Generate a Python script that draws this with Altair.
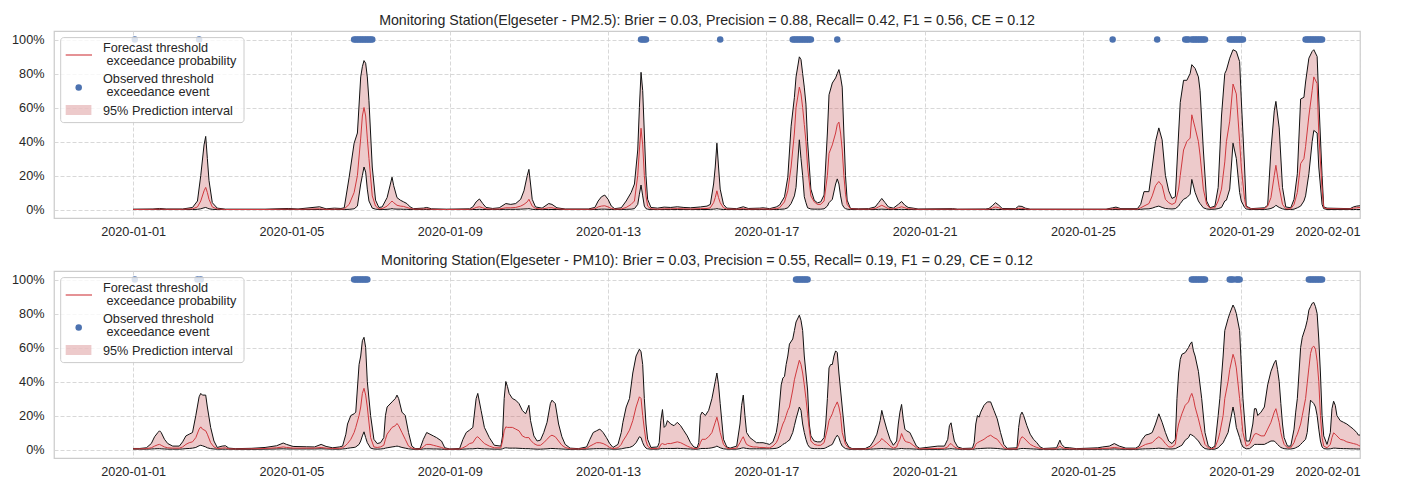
import altair as alt
import pandas as pd

# ---------------- data (hours after 2020-01-01 00:00) ----------------
PM25_HOURS = [
    0, 12, 16, 20, 30, 36, 39, 41, 43, 44,
    45, 46, 48, 51, 56, 80, 94, 100, 113, 117,
    122, 126, 128, 131, 134, 136, 138, 139, 140, 141,
    142, 143, 145, 147, 149, 151, 154, 156, 157, 158,
    160, 162, 164, 166, 168, 170, 176, 178, 181, 190,
    204, 206, 208, 210, 212, 214, 218, 222, 226, 229,
    232, 235, 237, 239, 240, 241, 242, 244, 248, 252,
    254, 257, 262, 276, 280, 282, 284, 286, 288, 290,
    292, 296, 299, 302, 304, 306, 307, 308, 309, 310,
    311, 312, 314, 318, 322, 326, 330, 334, 338, 344,
    348, 350, 352, 353, 354, 355, 356, 358, 360, 366,
    370, 373, 380, 382, 386, 390, 392, 395, 397, 399,
    401, 402, 404, 405, 406, 407, 408, 409, 411, 413,
    415, 417, 419, 421, 422, 424, 426, 427, 428, 429,
    430, 431, 432, 433, 435, 440, 446, 450, 452, 454,
    456, 458, 461, 464, 466, 468, 470, 473, 476, 497,
    500, 517, 519, 521, 523, 525, 527, 535, 537, 539,
    541, 544, 590, 594, 596, 599, 609, 611, 613, 616,
    618, 620, 622, 624, 626, 628, 630, 632, 634, 635,
    637, 639, 641, 642, 644, 646, 647, 649, 651, 653,
    656, 658, 660, 662, 663, 665, 667, 669, 671, 672,
    674, 675, 678, 686, 688, 690, 692, 693, 695, 697,
    699, 702, 704, 706, 708, 710, 711, 713, 715, 716,
    718, 719, 721, 722, 724, 738, 740, 742, 744,
]
PM25_LOWER = [
    0, 0, 0, 0, 0, 0, 0.001, 0.004, 0.01, 0.012,
    0.008, 0.004, 0.001, 0, 0, 0, 0, 0, 0, 0,
    0, 0, 0, 0.001, 0.004, 0.02, 0.15, 0.2, 0.25, 0.22,
    0.12, 0.05, 0.008, 0.002, 0, 0, 0.001, 0.003, 0.005, 0.003,
    0.002, 0.002, 0.001, 0.001, 0, 0, 0, 0, 0, 0,
    0, 0, 0, 0.001, 0, 0, 0, 0, 0.001, 0.001,
    0.001, 0.002, 0.003, 0.004, 0.005, 0.003, 0.001, 0, 0, 0,
    0, 0, 0, 0, 0, 0.001, 0.002, 0.002, 0.001, 0,
    0, 0, 0.001, 0.002, 0.005, 0.03, 0.09, 0.144, 0.08, 0.02,
    0.005, 0.002, 0, 0, 0, 0, 0, 0, 0, 0,
    0, 0.001, 0.002, 0.003, 0.005, 0.003, 0.002, 0, 0, 0,
    0, 0, 0, 0, 0, 0, 0.001, 0.003, 0.01, 0.035,
    0.08, 0.13, 0.41, 0.3, 0.2, 0.075, 0.04, 0.01, 0.003, 0.002,
    0.002, 0.002, 0.004, 0.02, 0.04, 0.06, 0.15, 0.18, 0.15, 0.08,
    0.03, 0.012, 0.005, 0.002, 0, 0, 0, 0, 0.001, 0.002,
    0.001, 0, 0, 0, 0.001, 0, 0, 0, 0, 0,
    0, 0, 0, 0, 0.001, 0, 0, 0, 0, 0,
    0, 0, 0, 0, 0, 0, 0, 0.001, 0.003, 0.004,
    0.008, 0.015, 0.02, 0.012, 0.006, 0.004, 0.003, 0.005, 0.02, 0.035,
    0.06, 0.07, 0.09, 0.177, 0.1, 0.05, 0.035, 0.01, 0.003, 0.001,
    0.002, 0.005, 0.012, 0.05, 0.055, 0.12, 0.39, 0.3, 0.1, 0.05,
    0.012, 0.003, 0, 0, 0.002, 0.006, 0.015, 0.025, 0.012, 0.004,
    0, 0, 0.002, 0.01, 0.02, 0.05, 0.08, 0.21, 0.4, 0.465,
    0.45, 0.25, 0.03, 0.005, 0, 0, 0, 0, 0,
]
PM25_MID = [
    0, 0.001, 0.002, 0.001, 0.001, 0.004, 0.015, 0.05, 0.11, 0.13,
    0.1, 0.06, 0.015, 0.003, 0, 0, 0.002, 0.001, 0.004, 0.001,
    0.002, 0.002, 0.003, 0.03, 0.1, 0.2, 0.42, 0.55, 0.6, 0.55,
    0.42, 0.3, 0.08, 0.02, 0.004, 0.005, 0.02, 0.04, 0.05, 0.04,
    0.025, 0.02, 0.018, 0.012, 0.006, 0.002, 0.003, 0.004, 0.001, 0,
    0.001, 0.004, 0.012, 0.016, 0.01, 0.004, 0.002, 0.003, 0.01, 0.01,
    0.012, 0.02, 0.03, 0.045, 0.06, 0.04, 0.02, 0.006, 0.003, 0.01,
    0.01, 0.004, 0.001, 0.001, 0.004, 0.015, 0.02, 0.022, 0.015, 0.006,
    0.002, 0.003, 0.012, 0.03, 0.05, 0.2, 0.35, 0.478, 0.38, 0.2,
    0.08, 0.02, 0.004, 0.002, 0.004, 0.004, 0.005, 0.004, 0.003, 0.005,
    0.006, 0.01, 0.04, 0.07, 0.11, 0.07, 0.04, 0.01, 0.003, 0.002,
    0.005, 0.002, 0.003, 0.003, 0.002, 0.005, 0.01, 0.045, 0.11, 0.25,
    0.45, 0.6, 0.72, 0.68, 0.6, 0.5, 0.4, 0.25, 0.08, 0.045,
    0.03, 0.03, 0.05, 0.2, 0.33, 0.38, 0.45, 0.5, 0.514, 0.45,
    0.35, 0.2, 0.09, 0.03, 0.004, 0.002, 0.002, 0.005, 0.015, 0.025,
    0.015, 0.005, 0.003, 0.01, 0.016, 0.01, 0.004, 0.003, 0.001, 0.002,
    0.001, 0.001, 0.002, 0.008, 0.015, 0.01, 0.002, 0.002, 0.007, 0.007,
    0.003, 0.001, 0.001, 0.004, 0.005, 0.002, 0.002, 0.01, 0.02, 0.035,
    0.08, 0.14, 0.165, 0.14, 0.06, 0.04, 0.03, 0.04, 0.12, 0.2,
    0.35, 0.4, 0.42, 0.557, 0.48, 0.4, 0.32, 0.12, 0.03, 0.008,
    0.01, 0.05, 0.12, 0.28, 0.4, 0.52, 0.738, 0.68, 0.4, 0.25,
    0.06, 0.015, 0.003, 0.005, 0.02, 0.07, 0.2, 0.26, 0.13, 0.03,
    0.004, 0.004, 0.03, 0.1, 0.27, 0.3, 0.37, 0.55, 0.7, 0.78,
    0.74, 0.45, 0.12, 0.01, 0.005, 0.003, 0.008, 0.01, 0.012,
]
PM25_UPPER = [
    0.002, 0.003, 0.006, 0.003, 0.003, 0.012, 0.05, 0.2, 0.38, 0.43,
    0.3, 0.17, 0.04, 0.008, 0.002, 0.002, 0.006, 0.003, 0.016, 0.004,
    0.008, 0.006, 0.01, 0.19, 0.39, 0.45, 0.78, 0.84, 0.876, 0.86,
    0.78, 0.64, 0.25, 0.055, 0.012, 0.015, 0.07, 0.15, 0.19, 0.14,
    0.07, 0.055, 0.045, 0.035, 0.015, 0.005, 0.008, 0.012, 0.004, 0.002,
    0.004, 0.015, 0.045, 0.062, 0.035, 0.012, 0.006, 0.01, 0.035, 0.03,
    0.035, 0.06, 0.11, 0.2, 0.236, 0.15, 0.06, 0.015, 0.008, 0.035,
    0.03, 0.01, 0.003, 0.003, 0.012, 0.05, 0.075, 0.085, 0.06, 0.02,
    0.005, 0.01, 0.05, 0.1, 0.15, 0.35, 0.6, 0.807, 0.7, 0.45,
    0.2, 0.06, 0.012, 0.008, 0.014, 0.012, 0.016, 0.012, 0.01, 0.015,
    0.02, 0.03, 0.15, 0.25, 0.39, 0.25, 0.12, 0.03, 0.008, 0.005,
    0.016, 0.006, 0.008, 0.01, 0.005, 0.015, 0.026, 0.075, 0.19, 0.49,
    0.66, 0.78, 0.898, 0.882, 0.8, 0.72, 0.62, 0.4, 0.12, 0.055,
    0.039, 0.045, 0.085, 0.45, 0.675, 0.744, 0.774, 0.8, 0.823, 0.78,
    0.72, 0.45, 0.2, 0.055, 0.006, 0.004, 0.005, 0.015, 0.04, 0.065,
    0.04, 0.015, 0.008, 0.03, 0.047, 0.025, 0.012, 0.008, 0.003, 0.005,
    0.002, 0.003, 0.006, 0.022, 0.04, 0.025, 0.006, 0.005, 0.02, 0.018,
    0.008, 0.002, 0.002, 0.01, 0.014, 0.005, 0.005, 0.03, 0.105, 0.105,
    0.25, 0.4, 0.48, 0.41, 0.2, 0.11, 0.065, 0.075, 0.45, 0.63,
    0.76, 0.76, 0.8, 0.852, 0.83, 0.78, 0.7, 0.35, 0.05, 0.01,
    0.02, 0.13, 0.55, 0.8, 0.82, 0.89, 0.94, 0.93, 0.87, 0.65,
    0.25, 0.02, 0.005, 0.01, 0.025, 0.35, 0.58, 0.636, 0.48, 0.13,
    0.015, 0.01, 0.06, 0.21, 0.65, 0.66, 0.75, 0.89, 0.93, 0.94,
    0.9, 0.65, 0.2, 0.015, 0.008, 0.005, 0.015, 0.02, 0.022,
]
PM25_EVENT_HOURS = [
    1, 40,
    134, 135, 136, 137, 138, 139, 140, 141, 142, 143, 144, 145,
    308, 309, 310, 311, 356,
    400, 401, 402, 403, 404, 405, 406, 407, 408, 409, 410, 411, 427,
    594, 621, 638, 639, 640,
    642, 643, 644, 645, 646, 647, 648, 649, 650,
    665, 666, 667, 668, 669, 670, 671, 672, 673,
    711, 712, 713, 714, 715, 716, 717, 718, 719, 720, 721,
]

PM10_HOURS = [
    0, 4, 8, 11, 13, 15, 16, 17, 19, 21,
    24, 28, 30, 32, 34, 36, 38, 40, 41, 42,
    44, 45, 47, 49, 51, 54, 56, 58, 62, 72,
    80, 87, 91, 93, 97, 105, 110, 114, 117, 121,
    125, 127, 129, 130, 132, 134, 135, 137, 138, 139,
    140, 141, 142, 144, 146, 148, 150, 152, 153, 154,
    157, 159, 160, 161, 163, 165, 167, 169, 171, 174,
    176, 177, 178, 180, 182, 184, 187, 189, 192, 198,
    200, 202, 204, 206, 208, 209, 211, 213, 216, 219,
    223, 224, 225, 226, 227, 228, 230, 232, 234, 236,
    238, 240, 241, 243, 245, 247, 249, 251, 253, 254,
    256, 258, 260, 262, 265, 270, 275, 277, 279, 281,
    283, 285, 287, 289, 291, 294, 296, 297, 299, 301,
    303, 305, 307, 308, 309, 310, 311, 312, 314, 318,
    319, 320, 321, 322, 323, 324, 326, 328, 330, 332,
    334, 336, 338, 340, 342, 343, 344, 345, 347, 349,
    351, 353, 354, 355, 356, 358, 360, 362, 366, 368,
    369, 370, 371, 372, 374, 376, 378, 380, 382, 384,
    386, 388, 390, 391, 393, 394, 395, 396, 397, 398,
    400, 401, 402, 404, 405, 406, 407, 408, 409, 410,
    411, 413, 415, 417, 419, 420, 421, 422, 423, 424,
    425, 426, 427, 428, 429, 430, 432, 434, 436, 444,
    447, 449, 451, 453, 454, 455, 457, 459, 461, 463,
    464, 465, 466, 467, 468, 469, 471, 473, 475, 477,
    488, 492, 494, 495, 496, 497, 498, 500, 503, 509,
    510, 511, 512, 513, 514, 516, 518, 520, 522, 524,
    526, 528, 530, 536, 537, 538, 539, 540, 542, 544,
    546, 548, 550, 552, 560, 562, 563, 565, 568, 572,
    585, 588, 592, 595, 598, 602, 608, 610, 612, 614,
    616, 618, 620, 622, 624, 626, 628, 630, 632, 633,
    634, 635, 636, 638, 640, 641, 642, 643, 644, 646,
    648, 650, 652, 654, 656, 658, 659, 661, 662, 664,
    665, 667, 668, 669, 671, 672, 673, 675, 677, 679,
    680, 681, 682, 684, 686, 688, 690, 692, 693, 694,
    695, 696, 697, 698, 700, 702, 704, 705, 706, 707,
    708, 709, 711, 712, 713, 714, 715, 716, 717, 718,
    719, 720, 721, 722, 724, 726, 727, 728, 729, 730,
    732, 734, 736, 738, 740, 742, 743, 744,
]
PM10_LOWER = [
    0.002, 0.002, 0.002, 0.003, 0.004, 0.005, 0.005, 0.004, 0.003, 0.002,
    0.002, 0.002, 0.003, 0.005, 0.006, 0.008, 0.012, 0.022, 0.025, 0.022,
    0.015, 0.01, 0.005, 0.003, 0.002, 0.002, 0.002, 0.002, 0.001, 0.001,
    0.002, 0.003, 0.004, 0.003, 0.003, 0.003, 0.003, 0.004, 0.003, 0.002,
    0.002, 0.003, 0.005, 0.007, 0.01, 0.012, 0.015, 0.03, 0.05, 0.08,
    0.104, 0.07, 0.04, 0.008, 0.003, 0.002, 0.003, 0.005, 0.008, 0.01,
    0.015, 0.018, 0.02, 0.018, 0.012, 0.008, 0.004, 0.002, 0.001, 0.001,
    0.003, 0.004, 0.004, 0.004, 0.003, 0.003, 0.002, 0.001, 0.001, 0.001,
    0.002, 0.003, 0.004, 0.004, 0.006, 0.007, 0.005, 0.004, 0.003, 0.002,
    0.002, 0.004, 0.008, 0.01, 0.009, 0.008, 0.008, 0.008, 0.007, 0.006,
    0.005, 0.005, 0.004, 0.003, 0.002, 0.002, 0.003, 0.004, 0.006, 0.006,
    0.005, 0.004, 0.003, 0.002, 0.001, 0.001, 0.002, 0.003, 0.004, 0.005,
    0.005, 0.005, 0.004, 0.003, 0.002, 0.002, 0.004, 0.006, 0.01, 0.012,
    0.02, 0.04, 0.075, 0.07, 0.04, 0.02, 0.008, 0.004, 0.002, 0.002,
    0.003, 0.005, 0.006, 0.005, 0.006, 0.006, 0.006, 0.006, 0.007, 0.006,
    0.005, 0.004, 0.003, 0.002, 0.002, 0.003, 0.005, 0.006, 0.006, 0.007,
    0.01, 0.015, 0.02, 0.015, 0.01, 0.004, 0.002, 0.002, 0.002, 0.005,
    0.008, 0.01, 0.008, 0.006, 0.004, 0.004, 0.004, 0.004, 0.004, 0.004,
    0.004, 0.005, 0.007, 0.01, 0.02, 0.03, 0.035, 0.04, 0.05, 0.055,
    0.1, 0.14, 0.18, 0.25, 0.23, 0.15, 0.1, 0.06, 0.03, 0.015,
    0.008, 0.005, 0.005, 0.005, 0.006, 0.01, 0.015, 0.02, 0.025, 0.03,
    0.05, 0.07, 0.084, 0.07, 0.04, 0.02, 0.005, 0.002, 0.001, 0.001,
    0.002, 0.003, 0.004, 0.005, 0.006, 0.005, 0.004, 0.003, 0.002, 0.003,
    0.004, 0.005, 0.006, 0.005, 0.004, 0.004, 0.004, 0.003, 0.002, 0.001,
    0.001, 0.002, 0.003, 0.004, 0.005, 0.004, 0.003, 0.002, 0.001, 0.001,
    0.002, 0.004, 0.005, 0.005, 0.006, 0.007, 0.008, 0.008, 0.007, 0.006,
    0.004, 0.002, 0.001, 0.001, 0.003, 0.005, 0.006, 0.006, 0.005, 0.004,
    0.003, 0.002, 0.001, 0.001, 0.001, 0.002, 0.002, 0.001, 0.001, 0.001,
    0.001, 0.002, 0.002, 0.003, 0.002, 0.001, 0.001, 0.002, 0.003, 0.004,
    0.004, 0.005, 0.006, 0.008, 0.006, 0.004, 0.003, 0.003, 0.005, 0.01,
    0.015, 0.02, 0.025, 0.055, 0.07, 0.09, 0.085, 0.08, 0.07, 0.05,
    0.02, 0.005, 0.002, 0.001, 0.002, 0.01, 0.02, 0.04, 0.06, 0.1,
    0.15, 0.25, 0.2, 0.13, 0.07, 0.035, 0.015, 0.004, 0.005, 0.02,
    0.03, 0.03, 0.03, 0.03, 0.03, 0.04, 0.05, 0.05, 0.04, 0.03,
    0.02, 0.012, 0.008, 0.005, 0.003, 0.003, 0.006, 0.01, 0.015, 0.02,
    0.03, 0.04, 0.06, 0.1, 0.2, 0.29, 0.28, 0.27, 0.25, 0.2,
    0.12, 0.05, 0.015, 0.005, 0.003, 0.004, 0.006, 0.008, 0.008, 0.007,
    0.006, 0.005, 0.005, 0.004, 0.004, 0.003, 0.003, 0.003,
]
PM10_MID = [
    0.004, 0.004, 0.005, 0.01, 0.02, 0.028, 0.03, 0.025, 0.015, 0.01,
    0.008, 0.008, 0.015, 0.03, 0.04, 0.045, 0.07, 0.12, 0.133, 0.12,
    0.11, 0.09, 0.04, 0.015, 0.006, 0.008, 0.01, 0.004, 0.003, 0.004,
    0.006, 0.01, 0.015, 0.012, 0.008, 0.008, 0.008, 0.012, 0.008, 0.006,
    0.007, 0.01, 0.025, 0.035, 0.06, 0.1, 0.13, 0.2, 0.25, 0.33,
    0.36, 0.32, 0.25, 0.07, 0.015, 0.012, 0.015, 0.025, 0.06, 0.09,
    0.13, 0.14, 0.153, 0.14, 0.1, 0.06, 0.02, 0.008, 0.003, 0.003,
    0.015, 0.025, 0.03, 0.03, 0.025, 0.02, 0.012, 0.004, 0.002, 0.003,
    0.01, 0.02, 0.035, 0.04, 0.07, 0.075, 0.055, 0.035, 0.02, 0.01,
    0.01, 0.05, 0.11, 0.133, 0.13, 0.13, 0.13, 0.12, 0.11, 0.08,
    0.07, 0.07, 0.055, 0.035, 0.025, 0.025, 0.04, 0.06, 0.08, 0.084,
    0.075, 0.05, 0.025, 0.012, 0.004, 0.003, 0.006, 0.02, 0.03, 0.04,
    0.04, 0.035, 0.025, 0.012, 0.005, 0.01, 0.03, 0.05, 0.08, 0.114,
    0.17, 0.25, 0.31, 0.3, 0.2, 0.12, 0.05, 0.02, 0.005, 0.006,
    0.01, 0.03, 0.035, 0.03, 0.03, 0.035, 0.035, 0.04, 0.045, 0.04,
    0.03, 0.02, 0.012, 0.006, 0.005, 0.015, 0.04, 0.06, 0.06, 0.075,
    0.1, 0.16, 0.19, 0.15, 0.1, 0.03, 0.008, 0.004, 0.008, 0.04,
    0.06, 0.075, 0.05, 0.03, 0.02, 0.015, 0.015, 0.012, 0.012, 0.01,
    0.01, 0.02, 0.04, 0.06, 0.12, 0.15, 0.17, 0.2, 0.23, 0.25,
    0.35, 0.41, 0.45, 0.525, 0.5, 0.45, 0.38, 0.3, 0.21, 0.12,
    0.05, 0.03, 0.025, 0.025, 0.04, 0.08, 0.12, 0.17, 0.19, 0.21,
    0.24, 0.26, 0.28, 0.25, 0.2, 0.1, 0.03, 0.008, 0.003, 0.003,
    0.008, 0.02, 0.035, 0.05, 0.065, 0.055, 0.04, 0.02, 0.008, 0.015,
    0.04, 0.06, 0.094, 0.07, 0.05, 0.045, 0.04, 0.025, 0.01, 0.004,
    0.006, 0.007, 0.015, 0.03, 0.035, 0.025, 0.015, 0.006, 0.003, 0.003,
    0.008, 0.03, 0.04, 0.045, 0.05, 0.06, 0.075, 0.084, 0.07, 0.06,
    0.035, 0.01, 0.003, 0.004, 0.03, 0.06, 0.075, 0.07, 0.05, 0.03,
    0.02, 0.012, 0.006, 0.003, 0.004, 0.02, 0.012, 0.005, 0.004, 0.003,
    0.004, 0.006, 0.008, 0.012, 0.008, 0.004, 0.004, 0.01, 0.02, 0.03,
    0.035, 0.04, 0.06, 0.075, 0.06, 0.035, 0.015, 0.015, 0.03, 0.1,
    0.15, 0.18, 0.21, 0.26, 0.28, 0.31, 0.33, 0.3, 0.25, 0.18,
    0.1, 0.03, 0.01, 0.004, 0.01, 0.06, 0.1, 0.2, 0.3, 0.4,
    0.47, 0.56, 0.53, 0.48, 0.3, 0.2, 0.1, 0.02, 0.03, 0.07,
    0.09, 0.094, 0.09, 0.08, 0.08, 0.12, 0.16, 0.22, 0.24, 0.2,
    0.16, 0.1, 0.06, 0.03, 0.01, 0.01, 0.04, 0.07, 0.09, 0.12,
    0.15, 0.2, 0.3, 0.39, 0.48, 0.565, 0.6, 0.608, 0.59, 0.52,
    0.4, 0.2, 0.07, 0.02, 0.01, 0.03, 0.07, 0.098, 0.09, 0.08,
    0.06, 0.055, 0.045, 0.04, 0.035, 0.03, 0.025, 0.02,
]
PM10_UPPER = [
    0.006, 0.006, 0.01, 0.035, 0.075, 0.1, 0.11, 0.1, 0.06, 0.035,
    0.02, 0.02, 0.045, 0.08, 0.09, 0.1, 0.2, 0.31, 0.33, 0.32,
    0.32, 0.25, 0.13, 0.05, 0.012, 0.02, 0.022, 0.008, 0.005, 0.007,
    0.012, 0.022, 0.038, 0.03, 0.018, 0.016, 0.015, 0.03, 0.018, 0.01,
    0.015, 0.02, 0.09, 0.15, 0.2, 0.21, 0.22, 0.5, 0.55, 0.64,
    0.66, 0.6, 0.4, 0.2, 0.06, 0.035, 0.04, 0.07, 0.2, 0.25,
    0.28, 0.3, 0.32, 0.3, 0.22, 0.2, 0.1, 0.02, 0.005, 0.006,
    0.06, 0.08, 0.1, 0.09, 0.08, 0.07, 0.05, 0.01, 0.003, 0.006,
    0.06, 0.1, 0.114, 0.13, 0.3, 0.33, 0.23, 0.13, 0.07, 0.025,
    0.02, 0.08, 0.3, 0.4, 0.37, 0.33, 0.3, 0.29, 0.27, 0.23,
    0.21, 0.26, 0.17, 0.08, 0.05, 0.055, 0.1, 0.16, 0.27, 0.29,
    0.27, 0.15, 0.075, 0.03, 0.008, 0.005, 0.015, 0.06, 0.1, 0.11,
    0.12, 0.1, 0.07, 0.035, 0.012, 0.03, 0.1, 0.16, 0.25, 0.3,
    0.45, 0.55, 0.59, 0.575, 0.5, 0.3, 0.15, 0.06, 0.012, 0.015,
    0.04, 0.17, 0.235, 0.13, 0.14, 0.17, 0.15, 0.14, 0.16, 0.14,
    0.11, 0.08, 0.04, 0.015, 0.01, 0.04, 0.2, 0.22, 0.2, 0.23,
    0.3, 0.4, 0.45, 0.38, 0.27, 0.06, 0.015, 0.008, 0.02, 0.15,
    0.26, 0.32, 0.2, 0.1, 0.07, 0.055, 0.04, 0.04, 0.04, 0.035,
    0.03, 0.045, 0.1, 0.16, 0.38, 0.42, 0.43, 0.5, 0.55, 0.62,
    0.65, 0.7, 0.75, 0.79, 0.76, 0.7, 0.55, 0.45, 0.35, 0.15,
    0.08, 0.05, 0.045, 0.045, 0.07, 0.15, 0.3, 0.48, 0.5, 0.5,
    0.55, 0.58, 0.57, 0.45, 0.35, 0.25, 0.05, 0.015, 0.005, 0.006,
    0.02, 0.05, 0.09, 0.17, 0.23, 0.19, 0.12, 0.06, 0.025, 0.05,
    0.15, 0.22, 0.265, 0.18, 0.12, 0.11, 0.1, 0.06, 0.02, 0.007,
    0.02, 0.02, 0.06, 0.14, 0.157, 0.1, 0.05, 0.015, 0.006, 0.008,
    0.04, 0.15, 0.2, 0.19, 0.22, 0.26, 0.28, 0.28, 0.23, 0.18,
    0.1, 0.03, 0.007, 0.01, 0.13, 0.2, 0.22, 0.2, 0.14, 0.09,
    0.06, 0.04, 0.015, 0.006, 0.01, 0.055, 0.03, 0.012, 0.01, 0.005,
    0.01, 0.015, 0.02, 0.035, 0.02, 0.008, 0.008, 0.02, 0.06, 0.085,
    0.09, 0.1, 0.15, 0.21, 0.16, 0.1, 0.05, 0.035, 0.06, 0.3,
    0.45, 0.53, 0.56, 0.57, 0.6, 0.62, 0.633, 0.58, 0.55, 0.46,
    0.3, 0.1, 0.02, 0.008, 0.02, 0.2, 0.3, 0.55, 0.7, 0.77,
    0.8, 0.85, 0.83, 0.8, 0.7, 0.5, 0.3, 0.05, 0.05, 0.15,
    0.24, 0.24, 0.2, 0.22, 0.25, 0.38, 0.46, 0.51, 0.525, 0.47,
    0.4, 0.27, 0.15, 0.07, 0.02, 0.02, 0.12, 0.22, 0.3, 0.45,
    0.6, 0.66, 0.72, 0.76, 0.82, 0.84, 0.86, 0.865, 0.84, 0.8,
    0.65, 0.45, 0.2, 0.08, 0.03, 0.1, 0.24, 0.284, 0.26, 0.2,
    0.17, 0.16, 0.15, 0.135, 0.12, 0.1, 0.085, 0.085,
]
PM10_EVENT_HOURS = [
    1, 39, 41,
    134, 135, 136, 137, 138, 139, 140, 141, 142,
    402, 403, 404, 405, 406, 407, 408, 409,
    642, 643, 644, 645, 646, 647, 648, 649, 650,
    665, 666, 667, 669, 670, 671,
    713, 714, 715, 716, 717, 718, 719, 720, 721,
]

TITLES = [
    "Monitoring Station(Elgeseter - PM2.5): Brier = 0.03, Precision = 0.88, "
    "Recall= 0.42, F1 = 0.56, CE = 0.12",
    "Monitoring Station(Elgeseter - PM10): Brier = 0.03, Precision = 0.55, "
    "Recall= 0.19, F1 = 0.29, CE = 0.12",
]
X_TICK_DATES = [(2020, 1, 1), (2020, 1, 5), (2020, 1, 9), (2020, 1, 13),
                (2020, 1, 17), (2020, 1, 21), (2020, 1, 25), (2020, 1, 29),
                (2020, 2, 1)]
Y_TICKS = [0, 0.2, 0.4, 0.6, 0.8, 1.0]
Y_LABELS = ["0%", "20%", "40%", "60%", "80%", "100%"]
LEGEND_LINES = [["Forecast threshold", "exceedance probability"],
                ["Observed threshold", "exceedance event"],
                ["95% Prediction interval"]]

assert len(PM25_HOURS) == len(PM25_LOWER) == len(PM25_MID) == len(PM25_UPPER)
assert len(PM10_HOURS) == len(PM10_LOWER) == len(PM10_MID) == len(PM10_UPPER)

# ---------------- styling ----------------
FONT = "Liberation Sans"
FS = 12.7
TITLE_FS = 14.2
TXT = "#262626"
RED = "#d0393e"
FILL = "#c44e52"
BLUE = "#4c72b0"
GRID = "#d4d4d4"
W, H = 1306, 187
START = pd.Timestamp("2020-01-01")


def stamp(hours):
    return [(START + pd.Timedelta(hours=h)).strftime("%Y-%m-%dT%H:%M:%S") for h in hours]


x_scale = alt.Scale(domain=[alt.DateTime(year=2019, month=12, date=30),
                            alt.DateTime(year=2020, month=2, date=1)])
x_axis = alt.Axis(values=[alt.DateTime(year=y, month=m, date=d) for y, m, d in X_TICK_DATES],
                  format="%Y-%m-%d", labelPadding=7, labelOverlap=False, title=None)
y_scale = alt.Scale(domain=[-0.05, 1.05], nice=False, zero=False)
label_expr = " : ".join(
    f"abs(datum.value - {v}) < 0.001 ? '{s}'" for v, s in zip(Y_TICKS, Y_LABELS)
) + " : ''"
y_axis = alt.Axis(values=Y_TICKS, labelExpr=label_expr, labelPadding=10,
                  labelOverlap=False, labelBound=False, labelFlush=False, title=None)


def panel(title, hours, lo, mid, up, ev_hours, leg_color, leg_width, leg_opacity):
    df = pd.DataFrame({"t": stamp(hours), "lo": lo, "mid": mid, "up": up})
    ev = pd.DataFrame({"t": stamp(ev_hours), "v": [1.0] * len(ev_hours)})
    one = pd.DataFrame({"k": [0]})
    X = alt.X("t:T", scale=x_scale, axis=x_axis)

    def Y(field):
        return alt.Y(field, scale=y_scale, axis=y_axis)

    base = alt.Chart(df)
    area = base.mark_area(color=FILL, opacity=0.3, interpolate="linear").encode(
        x=X, y=Y("lo:Q"), y2="up:Q")
    up_line = base.mark_line(color="#111111", strokeWidth=1).encode(x=X, y=Y("up:Q"))
    lo_line = base.mark_line(color="#111111", strokeWidth=1).encode(x=X, y=Y("lo:Q"))
    mid_line = base.mark_line(color=RED, strokeWidth=1).encode(x=X, y=Y("mid:Q"))
    pts = alt.Chart(ev).mark_circle(size=42, color=BLUE, opacity=1).encode(
        x=X, y=Y("v:Q"))

    leg = [
        alt.Chart(one).mark_rect(fill="white", fillOpacity=0.8, stroke="#cccccc",
                                 strokeWidth=1, cornerRadius=3).encode(
            x=alt.value(6.7), x2=alt.value(190), y=alt.value(6.6), y2=alt.value(91.6)),
        alt.Chart(one).mark_rule(color=leg_color, strokeWidth=leg_width,
                                 opacity=leg_opacity).encode(
            x=alt.value(11.7), x2=alt.value(38), y=alt.value(24)),
        alt.Chart(one).mark_circle(size=42, color=BLUE, opacity=1).encode(
            x=alt.value(24.7), y=alt.value(56.6)),
        alt.Chart(one).mark_rect(color=FILL, opacity=0.3).encode(
            x=alt.value(11.7), x2=alt.value(37.4), y=alt.value(74), y2=alt.value(84)),
    ]
    text_pos = [(49, 16.6, LEGEND_LINES[0][0]), (52.5, 29.6, LEGEND_LINES[0][1]),
                (49, 48, LEGEND_LINES[1][0]), (52.5, 61.4, LEGEND_LINES[1][1]),
                (49, 79.5, LEGEND_LINES[2][0])]
    for tx, ty, s in text_pos:
        leg.append(alt.Chart(one).mark_text(align="left", baseline="middle", font=FONT,
                                            fontSize=FS, color=TXT).encode(
            x=alt.value(tx), y=alt.value(ty), text=alt.value(s)))

    return alt.layer(area, up_line, lo_line, mid_line, pts, *leg).properties(
        width=W, height=H,
        title=alt.TitleParams(title, font=FONT, fontSize=TITLE_FS, fontWeight="normal",
                              color=TXT, anchor="middle", offset=2.5))


top = panel(TITLES[0], PM25_HOURS, PM25_LOWER, PM25_MID, PM25_UPPER,
            PM25_EVENT_HOURS, RED, 2, 0.55)
bottom = panel(TITLES[1], PM10_HOURS, PM10_LOWER, PM10_MID, PM10_UPPER,
               PM10_EVENT_HOURS, RED, 1.1, 1)

chart = alt.vconcat(top, bottom, spacing=14).properties(
    padding={"left": 2, "top": 5, "right": 5, "bottom": 2}
).configure_axis(
    labelFont=FONT, labelFontSize=FS, labelColor=TXT,
    grid=True, gridColor=GRID, gridDash=[4, 2], gridWidth=0.9,
    domain=False, ticks=False,
).configure_axisY(
    labelOverlap=False
).configure_view(
    stroke="#cccccc", strokeWidth=1.25
).configure_title(font=FONT)

chart.save("out.html", embed_options={"renderer": "svg", "actions": False})
